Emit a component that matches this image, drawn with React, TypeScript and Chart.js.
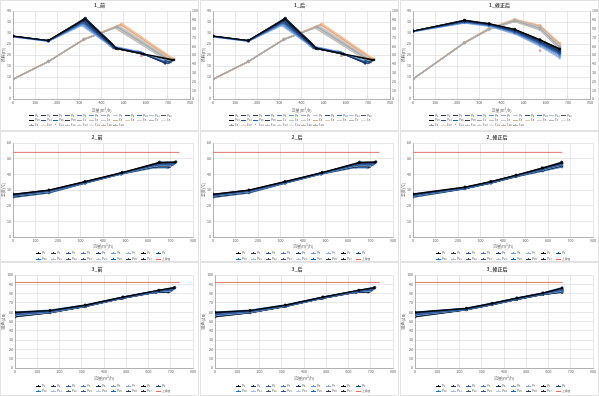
import React, { useEffect, useRef } from "react";
import { Chart, registerables } from "chart.js";
Chart.register(...registerables);

type Pt = [number, number];
const FONT = "'Noto Sans CJK SC', 'Noto Sans', sans-serif";

// ---------- text ----------
const panelTitles = [
  ["1_前", "1_后", "1_修正后"],
  ["2_前", "2_后", "2_修正后"],
  ["3_前", "3_后", "3_修正后"],
];
const xAxisTitle = "流量(m³/h)";
const headAxisTitle = "扬程(m)";
const tempAxisTitle = "温度(℃)";
const noiseAxisTitle = "噪声(dB)";
const limitLabel = "上限值";

// ---------- ticks ----------
const flowTicks = [0, 100, 200, 300, 400, 500, 600, 700, 800];
const headTicks = [0, 5, 10, 15, 20, 25, 30, 35, 40];
const effTicks = [0, 10, 20, 30, 40, 50, 60, 70, 80, 90, 100];
const tempTicks = [0, 10, 20, 30, 40, 50, 60];
const noiseTicks = [0, 10, 20, 30, 40, 50, 60, 70, 80, 90, 100];

// ---------- legend labels ----------
const headLabels = ["P1", "P2", "P3", "P4", "P5", "P6", "P7", "P8", "P9", "P10", "P11", "P12", "P13", "P14", "P15", "P16"];
const effLabels = ["E1", "E2", "E3", "E4", "E5", "E6", "E7", "E8", "E9", "E10", "E11", "E12", "E13", "E14", "E15", "E16"];
const unitLabels = ["P1", "P2", "P3", "P4", "P5", "P6", "P7", "P8", "P9", "P10", "P11", "P12", "P13", "P14", "P15", "P16", "P17"];

// ---------- colours ----------
const blueColors = ["#000000", "#1f3864", "#203864", "#2f5597", "#4472c4", "#5b9bd5", "#8eaadb", "#b4c6e7", "#1f4e79", "#2e75b6", "#9dc3e6", "#44546a", "#0d0d0d", "#305496", "#0070c0", "#333f50"];
const grayColors = ["#a6a6a6", "#bfbfbf", "#c9c9c9", "#e9a77a", "#f4c7a3", "#d0d0d0", "#b5b5b5", "#dadada", "#9a9a9a", "#f2d0b5", "#e07b6a", "#bdbdbd", "#cfcfcf", "#e0e0e0", "#dcb08f", "#adadad"];
const unitColors = ["#000000", "#1f3864", "#2f5597", "#4472c4", "#203864", "#5b9bd5", "#8eaadb", "#0d0d0d", "#1f4e79", "#2e75b6", "#9dc3e6", "#44546a", "#305496", "#b4c6e7", "#0070c0", "#333f50", "#262626"];
const limitColor = "#e06c5c";
const markers = ["rect", "triangle", "rectRot", "circle", "rect", "triangle", "rectRot", "rect"];

// ---------- data: panel row 1 (head, left axis) ----------
const headBefore: Pt[][] = [
  [[0, 28.6], [160, 26.6], [325, 36.4], [468, 23.0], [588, 20.5], [728, 17.8]],
  [[0, 28.5], [160, 26.5], [322, 36.0], [462, 23.1], [582, 20.7], [690, 16.4]],
  [[0, 28.5], [160, 26.5], [320, 35.6], [460, 23.2], [580, 20.8], [688, 16.2]],
  [[0, 28.4], [160, 26.4], [318, 35.0], [455, 23.4], [576, 21.0], [686, 16.6]],
  [[0, 28.4], [160, 26.4], [316, 34.5], [450, 23.7], [572, 21.2], [684, 16.9]],
  [[0, 28.3], [160, 26.3], [314, 34.0], [445, 24.0], [568, 21.4], [680, 17.2]],
  [[0, 28.3], [160, 26.3], [312, 33.6], [440, 24.2], [564, 21.6], [678, 17.4]],
  [[0, 28.2], [160, 26.2], [310, 33.3], [436, 24.4], [560, 21.8], [676, 17.6]],
  [[0, 28.6], [160, 26.6], [326, 36.6], [472, 22.8], [592, 20.3], [712, 16.8]],
  [[0, 28.5], [160, 26.5], [321, 35.3], [458, 23.3], [578, 20.9], [695, 16.7]],
  [[0, 28.2], [160, 26.2], [313, 33.8], [442, 24.1], [566, 21.5], [682, 17.3]],
  [[0, 28.5], [160, 26.5], [323, 36.2], [465, 23.0], [585, 20.6], [700, 16.5]],
  [[0, 28.6], [160, 26.6], [327, 36.8], [475, 22.7], [595, 20.2], [720, 17.6]],
  [[0, 28.4], [160, 26.4], [319, 35.2], [457, 23.3], [577, 20.9], [692, 16.9]],
  [[0, 28.3], [160, 26.3], [317, 34.7], [452, 23.6], [574, 21.1], [688, 17.0]],
  [[0, 28.5], [160, 26.5], [324, 36.3], [466, 22.9], [586, 20.6], [705, 16.6]],
];
// efficiency, right axis (%)
const effBefore: Pt[][] = [
  [[0, 22.5], [160, 42.5], [320, 67.6], [470, 82.0], [710, 43.5]],
  [[0, 22.6], [160, 42.6], [321, 67.8], [475, 82.5], [715, 44.0]],
  [[0, 22.4], [160, 42.4], [319, 67.4], [465, 81.5], [705, 43.0]],
  [[0, 22.5], [160, 42.5], [322, 68.0], [488, 84.5], [722, 45.0]],
  [[0, 22.6], [160, 42.6], [323, 68.3], [495, 85.5], [728, 45.5]],
  [[0, 22.5], [160, 42.5], [320, 67.7], [480, 83.0], [718, 44.3]],
  [[0, 22.4], [160, 42.4], [318, 67.2], [460, 81.0], [700, 42.8]],
  [[0, 22.5], [160, 42.5], [320, 67.5], [472, 82.2], [712, 43.8]],
  [[0, 22.6], [160, 42.6], [321, 67.9], [478, 82.8], [716, 44.2]],
  [[0, 22.5], [160, 42.5], [322, 68.1], [490, 84.8], [725, 45.2]],
  [[580, 49.0]],
  [[0, 22.4], [160, 42.4], [319, 67.3], [468, 81.8], [708, 43.3]],
  [[0, 22.5], [160, 42.5], [320, 67.6], [474, 82.4], [714, 43.9]],
  [[0, 22.6], [160, 42.6], [321, 67.9], [483, 83.6], [720, 44.6]],
  [[0, 22.5], [160, 42.5], [322, 68.2], [492, 85.0], [726, 45.3]],
  [[0, 22.5], [160, 42.5], [320, 67.5], [470, 82.1], [710, 43.6]],
];
const headFix: Pt[][] = [
  [[0, 30.9], [233, 35.7], [344, 34.2], [460, 31.6], [574, 26.8], [663, 22.6]],
  [[0, 30.9], [233, 35.8], [344, 34.0], [460, 31.3], [574, 26.4], [663, 22.0]],
  [[0, 30.8], [233, 35.4], [344, 33.9], [460, 31.0], [574, 26.0], [663, 21.4]],
  [[0, 30.8], [233, 35.1], [344, 33.7], [460, 30.6], [574, 25.5], [663, 20.8]],
  [[0, 30.7], [233, 34.9], [344, 33.5], [460, 30.3], [574, 25.0], [663, 20.2]],
  [[0, 30.7], [233, 34.7], [344, 33.3], [460, 30.0], [574, 24.6], [663, 19.6]],
  [[0, 30.6], [233, 34.6], [344, 33.1], [460, 29.7], [574, 24.2], [663, 19.0]],
  [[0, 30.6], [233, 34.5], [344, 33.0], [460, 29.5], [574, 23.9], [663, 18.5]],
  [[0, 30.9], [233, 35.6], [344, 34.1], [460, 31.4], [574, 26.6], [663, 22.3]],
  [[0, 30.8], [233, 35.2], [344, 33.8], [460, 30.8], [574, 25.7], [663, 21.0]],
  [[0, 30.7], [233, 34.8], [344, 33.4], [460, 30.1], [574, 24.8], [663, 19.9]],
  [[0, 30.9], [233, 35.5], [344, 34.0], [460, 31.2], [574, 26.2], [663, 21.7]],
  [[0, 30.9], [233, 35.9], [344, 34.3], [460, 31.7], [574, 27.0], [663, 22.8]],
  [[0, 30.8], [233, 35.3], [344, 33.8], [460, 30.9], [574, 25.9], [663, 21.2]],
  [[0, 30.7], [233, 35.0], [344, 33.6], [460, 30.4], [574, 25.2], [663, 20.5]],
  [[0, 30.8], [233, 35.4], [344, 33.9], [460, 31.1], [574, 26.1], [663, 21.5]],
];
const effFix: Pt[][] = [
  [[0, 22.7], [233, 64.0], [344, 79.5], [460, 89.0], [574, 80.5], [663, 59.0]],
  [[0, 22.8], [233, 64.3], [344, 80.0], [460, 89.8], [574, 82.0], [663, 61.0]],
  [[0, 22.6], [233, 63.8], [344, 79.2], [460, 88.5], [574, 79.5], [663, 57.5]],
  [[0, 22.7], [233, 64.2], [344, 80.2], [460, 90.3], [574, 83.0], [663, 62.5]],
  [[0, 22.8], [233, 64.4], [344, 80.5], [460, 90.6], [574, 83.8], [663, 63.5]],
  [[0, 22.7], [233, 64.1], [344, 79.8], [460, 89.5], [574, 81.5], [663, 60.5]],
  [[0, 22.6], [233, 63.7], [344, 79.0], [460, 88.0], [574, 78.5], [663, 56.5]],
  [[0, 22.7], [233, 64.0], [344, 79.6], [460, 89.2], [574, 80.8], [663, 59.5]],
  [[0, 22.8], [233, 64.2], [344, 79.9], [460, 89.7], [574, 81.8], [663, 60.8]],
  [[0, 22.7], [233, 64.3], [344, 80.3], [460, 90.4], [574, 83.3], [663, 63.0]],
  [[574, 55.0]],
  [[0, 22.6], [233, 63.9], [344, 79.3], [460, 88.8], [574, 80.0], [663, 58.2]],
  [[0, 22.7], [233, 64.0], [344, 79.7], [460, 89.3], [574, 81.0], [663, 59.8]],
  [[0, 22.8], [233, 64.3], [344, 80.1], [460, 90.0], [574, 82.5], [663, 61.8]],
  [[0, 22.7], [233, 64.2], [344, 80.4], [460, 90.5], [574, 83.5], [663, 63.2]],
  [[0, 22.6], [233, 63.8], [344, 79.1], [460, 88.3], [574, 79.0], [663, 57.0]],
];

// ---------- data: row 2 (temperature) ----------
const tempBefore: Pt[][] = [
  [[0, 27.2], [160, 29.9], [320, 35.3], [485, 41.1], [650, 47.5], [722, 47.8]],
  [[0, 27.0], [160, 29.7], [320, 35.2], [485, 41.0], [650, 47.2], [720, 47.4]],
  [[0, 26.8], [160, 29.5], [320, 35.1], [485, 40.9], [648, 46.9], [716, 47.0]],
  [[0, 26.6], [160, 29.4], [320, 35.0], [485, 40.8], [646, 46.6], [712, 46.6]],
  [[0, 26.4], [160, 29.2], [320, 34.9], [484, 40.7], [644, 46.2], [708, 46.2]],
  [[0, 26.2], [160, 29.0], [320, 34.8], [483, 40.6], [642, 45.8], [704, 45.8]],
  [[0, 26.0], [160, 28.8], [320, 34.7], [482, 40.5], [640, 45.5], [700, 45.4]],
  [[0, 25.8], [160, 28.6], [320, 34.6], [481, 40.4], [638, 45.2], [696, 45.0]],
  [[0, 25.6], [160, 28.5], [320, 34.5], [480, 40.3], [636, 44.9], [692, 44.7]],
  [[0, 25.4], [160, 28.3], [320, 34.4], [480, 40.2], [634, 44.6], [688, 44.4]],
  [[0, 25.2], [160, 28.2], [320, 34.3], [479, 40.1], [632, 44.3], [684, 44.1]],
  [[0, 27.4], [160, 30.0], [320, 35.4], [486, 41.2], [652, 47.8], [724, 48.0]],
  [[0, 26.9], [160, 29.6], [320, 35.1], [485, 40.9], [649, 47.0], [718, 47.2]],
  [[0, 26.5], [160, 29.3], [320, 34.9], [484, 40.8], [645, 46.4], [710, 46.4]],
  [[0, 26.1], [160, 28.9], [320, 34.7], [482, 40.5], [641, 45.6], [702, 45.6]],
  [[0, 25.7], [160, 28.6], [320, 34.5], [481, 40.3], [637, 45.0], [694, 44.9]],
  [[0, 25.3], [160, 28.2], [320, 34.3], [479, 40.1], [633, 44.4], [686, 44.2]],
];
const tempFix: Pt[][] = [
  [[0, 27.3], [231, 31.8], [346, 35.3], [458, 39.4], [575, 44.0], [661, 47.5]],
  [[0, 27.1], [231, 31.6], [346, 35.2], [458, 39.3], [575, 43.8], [661, 47.2]],
  [[0, 26.9], [231, 31.5], [346, 35.1], [458, 39.2], [575, 43.6], [661, 47.0]],
  [[0, 26.7], [231, 31.4], [346, 35.0], [458, 39.1], [575, 43.4], [661, 46.7]],
  [[0, 26.5], [231, 31.3], [346, 34.9], [458, 39.0], [575, 43.2], [661, 46.4]],
  [[0, 26.3], [231, 31.2], [346, 34.8], [458, 38.9], [575, 43.0], [661, 46.1]],
  [[0, 26.1], [231, 31.1], [346, 34.7], [458, 38.8], [575, 42.8], [661, 45.8]],
  [[0, 25.9], [231, 31.0], [346, 34.6], [458, 38.7], [575, 42.6], [661, 45.5]],
  [[0, 25.7], [231, 30.9], [346, 34.5], [458, 38.6], [575, 42.4], [661, 45.2]],
  [[0, 25.5], [231, 30.8], [346, 34.4], [458, 38.5], [575, 42.2], [661, 44.9]],
  [[0, 25.3], [231, 30.7], [346, 34.3], [458, 38.4], [575, 42.0], [661, 44.6]],
  [[0, 27.5], [231, 31.9], [346, 35.4], [458, 39.5], [575, 44.2], [661, 47.8]],
  [[0, 27.0], [231, 31.6], [346, 35.2], [458, 39.3], [575, 43.7], [661, 47.1]],
  [[0, 26.6], [231, 31.4], [346, 35.0], [458, 39.1], [575, 43.3], [661, 46.5]],
  [[0, 26.2], [231, 31.2], [346, 34.8], [458, 38.9], [575, 42.9], [661, 45.9]],
  [[0, 25.8], [231, 31.0], [346, 34.6], [458, 38.7], [575, 42.5], [661, 45.3]],
  [[0, 25.4], [231, 30.8], [346, 34.4], [458, 38.5], [575, 42.1], [661, 44.8]],
];
const tempLimitBefore: Pt[] = [[0, 54], [740, 54]];
const tempLimitFix: Pt[] = [[0, 54], [664, 54]];

// ---------- data: row 3 (noise) ----------
const noiseBefore: Pt[][] = [
  [[0, 59.8], [157, 61.8], [316, 67.6], [485, 76.3], [646, 83.6], [716, 86.5]],
  [[0, 59.2], [157, 61.4], [316, 67.4], [485, 76.1], [646, 83.3], [716, 85.8]],
  [[0, 58.6], [157, 61.1], [316, 67.2], [485, 75.9], [644, 83.0], [712, 85.2]],
  [[0, 58.0], [157, 60.8], [316, 67.0], [485, 75.7], [642, 82.7], [708, 84.6]],
  [[0, 57.4], [157, 60.5], [316, 66.8], [484, 75.5], [640, 82.4], [704, 84.0]],
  [[0, 56.8], [157, 60.2], [316, 66.6], [483, 75.3], [638, 82.1], [700, 83.4]],
  [[0, 56.2], [157, 59.9], [316, 66.4], [482, 75.1], [636, 81.8], [696, 82.8]],
  [[0, 55.6], [157, 59.6], [316, 66.2], [481, 74.9], [634, 81.5], [692, 82.2]],
  [[0, 55.0], [157, 59.3], [316, 66.0], [480, 74.7], [632, 81.2], [688, 81.6]],
  [[0, 60.2], [157, 62.2], [316, 67.8], [486, 76.5], [648, 83.9], [720, 87.0]],
  [[0, 57.7], [157, 60.6], [316, 66.9], [485, 75.6], [641, 82.6], [706, 84.3]],
  [[0, 56.5], [157, 60.0], [316, 66.5], [483, 75.2], [637, 82.0], [698, 83.1]],
  [[0, 55.3], [157, 59.4], [316, 66.1], [480, 74.8], [633, 81.3], [690, 81.9]],
  [[0, 58.9], [157, 61.2], [316, 67.3], [485, 76.0], [645, 83.1], [714, 85.5]],
  [[0, 57.1], [157, 60.4], [316, 66.7], [484, 75.4], [639, 82.3], [702, 83.7]],
  [[0, 55.9], [157, 59.8], [316, 66.3], [482, 75.0], [635, 81.7], [694, 82.5]],
  [[0, 59.5], [157, 61.6], [316, 67.5], [486, 76.2], [647, 83.4], [718, 86.0]],
];
const noiseFix: Pt[][] = [
  [[0, 59.8], [231, 64.2], [346, 69.5], [458, 75.2], [575, 80.6], [661, 86.0]],
  [[0, 59.2], [231, 63.9], [346, 69.3], [458, 75.0], [575, 80.4], [661, 85.4]],
  [[0, 58.6], [231, 63.7], [346, 69.1], [458, 74.8], [575, 80.2], [661, 84.8]],
  [[0, 58.0], [231, 63.5], [346, 68.9], [458, 74.6], [575, 80.0], [661, 84.2]],
  [[0, 57.4], [231, 63.3], [346, 68.7], [458, 74.4], [575, 79.8], [661, 83.6]],
  [[0, 56.8], [231, 63.1], [346, 68.5], [458, 74.2], [575, 79.6], [661, 83.0]],
  [[0, 56.2], [231, 62.9], [346, 68.3], [458, 74.0], [575, 79.4], [661, 82.4]],
  [[0, 55.6], [231, 62.7], [346, 68.1], [458, 73.8], [575, 79.2], [661, 81.8]],
  [[0, 55.0], [231, 62.5], [346, 67.9], [458, 73.6], [575, 79.0], [661, 81.2]],
  [[0, 60.2], [231, 64.4], [346, 69.7], [458, 75.4], [575, 80.8], [661, 86.4]],
  [[0, 57.7], [231, 63.4], [346, 68.8], [458, 74.5], [575, 79.9], [661, 83.9]],
  [[0, 56.5], [231, 63.0], [346, 68.4], [458, 74.1], [575, 79.5], [661, 82.7]],
  [[0, 55.3], [231, 62.6], [346, 68.0], [458, 73.7], [575, 79.1], [661, 81.5]],
  [[0, 58.9], [231, 63.8], [346, 69.2], [458, 74.9], [575, 80.3], [661, 85.1]],
  [[0, 57.1], [231, 63.2], [346, 68.6], [458, 74.3], [575, 79.7], [661, 83.3]],
  [[0, 55.9], [231, 62.8], [346, 68.2], [458, 73.9], [575, 79.3], [661, 82.1]],
  [[0, 59.5], [231, 64.0], [346, 69.4], [458, 75.1], [575, 80.5], [661, 85.7]],
];
const noiseLimitBefore: Pt[] = [[0, 92], [740, 92]];
const noiseLimitFix: Pt[] = [[0, 92], [664, 92]];

// ---------- panel building ----------
type DS = { label: string; color: string; points: Pt[]; axis: string; line: boolean; marker: string | null; width: number };
type Geo = { x: number; y: number; w: number; h: number; l: number; r: number; t: number; b: number; xh: number;
  lg: { left: number; top: number; cols: number; colW: number; rowH: number } };
type PanelCfg = { title: string; yTitle: string; yTicks: number[]; y1Ticks: number[] | null; datasets: DS[]; geo: Geo };

function perfSets(head: Pt[][], eff: Pt[][]): DS[] {
  const a: DS[] = head.map((p, i) => ({ label: headLabels[i], color: blueColors[i], points: p, axis: "y", line: true, marker: markers[i % markers.length], width: 1.1 }));
  const b: DS[] = eff.map((p, i) => ({ label: effLabels[i], color: grayColors[i], points: p, axis: "y1", line: p.length > 1, marker: markers[(i + 3) % markers.length], width: 1.2 }));
  return [...a, ...b];
}
function unitSets(series: Pt[][], limit: Pt[]): DS[] {
  const a: DS[] = series.map((p, i) => ({ label: unitLabels[i], color: unitColors[i], points: p, axis: "y", line: true, marker: markers[i % markers.length], width: 1.2 }));
  return [...a, { label: limitLabel, color: limitColor, points: limit, axis: "y", line: true, marker: null, width: 0.9 }];
}

const colX = [0, 200, 400];
const rowY = [0, 131, 262];
const rowH = [131, 131, 134];
function geoFor(row: number, col: number): Geo {
  const base = { x: colX[col], y: rowY[row], w: 199, h: rowH[row] };
  if (row === 0) return { ...base, l: 13, r: 190, t: 11, b: 99, xh: 13.5, lg: { left: 29, top: 113.5, cols: 12, colW: 12, rowH: 4.6 } };
  if (row === 1) return { ...base, l: 13, r: 193, t: 12, b: 106, xh: 12, lg: { left: 36, top: 119, cols: 9, colW: 15, rowH: 6 } };
  return { ...base, l: 15, r: 193, t: 13, b: 106, xh: 13, lg: { left: 36, top: 121.5, cols: 9, colW: 15, rowH: 5.2 } };
}

const panels: PanelCfg[] = [
  { title: panelTitles[0][0], yTitle: headAxisTitle, yTicks: headTicks, y1Ticks: effTicks, datasets: perfSets(headBefore, effBefore), geo: geoFor(0, 0) },
  { title: panelTitles[0][1], yTitle: headAxisTitle, yTicks: headTicks, y1Ticks: effTicks, datasets: perfSets(headBefore, effBefore), geo: geoFor(0, 1) },
  { title: panelTitles[0][2], yTitle: headAxisTitle, yTicks: headTicks, y1Ticks: effTicks, datasets: perfSets(headFix, effFix), geo: geoFor(0, 2) },
  { title: panelTitles[1][0], yTitle: tempAxisTitle, yTicks: tempTicks, y1Ticks: null, datasets: unitSets(tempBefore, tempLimitBefore), geo: geoFor(1, 0) },
  { title: panelTitles[1][1], yTitle: tempAxisTitle, yTicks: tempTicks, y1Ticks: null, datasets: unitSets(tempBefore, tempLimitBefore), geo: geoFor(1, 1) },
  { title: panelTitles[1][2], yTitle: tempAxisTitle, yTicks: tempTicks, y1Ticks: null, datasets: unitSets(tempFix, tempLimitFix), geo: geoFor(1, 2) },
  { title: panelTitles[2][0], yTitle: noiseAxisTitle, yTicks: noiseTicks, y1Ticks: null, datasets: unitSets(noiseBefore, noiseLimitBefore), geo: geoFor(2, 0) },
  { title: panelTitles[2][1], yTitle: noiseAxisTitle, yTicks: noiseTicks, y1Ticks: null, datasets: unitSets(noiseBefore, noiseLimitBefore), geo: geoFor(2, 1) },
  { title: panelTitles[2][2], yTitle: noiseAxisTitle, yTicks: noiseTicks, y1Ticks: null, datasets: unitSets(noiseFix, noiseLimitFix), geo: geoFor(2, 2) },
];

const tickFont = { family: FONT, size: 3.5 };
const axisTitleFont = { family: FONT, size: 4 };
const txt = "#595959";

function Legend({ cfg }: { cfg: PanelCfg }) {
  const g = cfg.geo.lg;
  return (
    <div style={{ position: "absolute", left: g.left, top: g.top, display: "grid", gridTemplateColumns: `repeat(${g.cols}, ${g.colW}px)`, gridAutoRows: `${g.rowH}px`, fontFamily: FONT, fontSize: 2.8, color: txt, whiteSpace: "nowrap" }}>
      {cfg.datasets.map((d, i) => (
        <div key={i} style={{ display: "flex", alignItems: "center", height: g.rowH, lineHeight: `${g.rowH}px` }}>
          <span style={{ position: "relative", display: "inline-block", width: 5, height: 0.7, background: d.line ? d.color : "transparent", marginRight: 1 }}>
            {d.marker && <span style={{ position: "absolute", left: 1.9, top: -0.5, width: 1.3, height: 1.3, background: d.color }} />}
          </span>
          <span>{d.label}</span>
        </div>
      ))}
    </div>
  );
}

function Panel({ cfg }: { cfg: PanelCfg }) {
  const ref = useRef<HTMLCanvasElement>(null);
  useEffect(() => {
    const g = cfg.geo;
    const padL = 1;
    const padR = cfg.y1Ticks ? 1 : g.w - g.r;
    const yT = cfg.yTicks;
    const scales: any = {
      x: {
        type: "linear", min: flowTicks[0], max: flowTicks[flowTicks.length - 1],
        ticks: { stepSize: flowTicks[1] - flowTicks[0], font: tickFont, color: txt, padding: 1.5, maxRotation: 0, autoSkip: false },
        grid: { color: "#d9d9d9", lineWidth: 0.6, drawTicks: false },
        border: { color: "#a6a6a6", width: 0.8 },
        title: { display: true, text: xAxisTitle, font: axisTitleFont, color: txt, padding: 0 },
        afterFit: (s: any) => { s.height = g.xh; },
      },
      y: {
        type: "linear", position: "left", min: yT[0], max: yT[yT.length - 1],
        ticks: { stepSize: yT[1] - yT[0], font: tickFont, color: txt, padding: 2 },
        grid: { color: "#d9d9d9", lineWidth: 0.6, drawTicks: false },
        border: { color: "#a6a6a6", width: 0.8 },
        title: { display: true, text: cfg.yTitle, font: axisTitleFont, color: txt, padding: 0 },
        afterFit: (s: any) => { s.width = g.l - padL; },
      },
    };
    if (cfg.y1Ticks) {
      const t1 = cfg.y1Ticks;
      scales.y1 = {
        type: "linear", position: "right", min: t1[0], max: t1[t1.length - 1],
        ticks: { stepSize: t1[1] - t1[0], font: tickFont, color: txt, padding: 2 },
        grid: { drawOnChartArea: false, drawTicks: false },
        border: { color: "#a6a6a6", width: 0.8 },
        afterFit: (s: any) => { s.width = g.w - padR - g.r; },
      };
    }
    const chart = new Chart(ref.current!, {
      type: "scatter",
      data: {
        datasets: cfg.datasets.map((d) => ({
          label: d.label,
          data: d.points.map(([x, y]) => ({ x, y })),
          yAxisID: d.axis,
          showLine: d.line,
          borderColor: d.color,
          backgroundColor: d.color,
          borderWidth: d.width,
          pointStyle: (d.marker || "circle") as any,
          pointRadius: d.marker ? 1.3 : 0,
          pointBorderWidth: 0.4,
          tension: 0,
        })),
      },
      options: {
        responsive: false,
        animation: false,
        devicePixelRatio: 1,
        layout: { padding: { left: padL, right: padR, top: 0, bottom: g.h - g.b - g.xh } },
        plugins: {
          legend: { display: false },
          tooltip: { enabled: false },
          title: { display: true, text: cfg.title, font: { family: FONT, size: 5, weight: "bold" }, color: "#404040", padding: { top: g.t - 9, bottom: 3 } },
        },
        scales,
      } as any,
    });
    return () => chart.destroy();
  }, [cfg]);
  const g = cfg.geo;
  return (
    <div style={{ position: "absolute", left: g.x, top: g.y, width: g.w, height: g.h, background: "#fff", boxShadow: "inset 0 0 0 1px #e3e3e3" }}>
      <canvas ref={ref} width={g.w} height={g.h} style={{ position: "absolute", left: 0, top: 0, width: g.w, height: g.h }} />
      <Legend cfg={cfg} />
    </div>
  );
}

export default function App() {
  return (
    <div style={{ position: "fixed", left: 0, top: 0, width: 599, height: 396, background: "#fff", overflow: "hidden" }}>
      {panels.map((p, i) => <Panel key={i} cfg={p} />)}
    </div>
  );
}
